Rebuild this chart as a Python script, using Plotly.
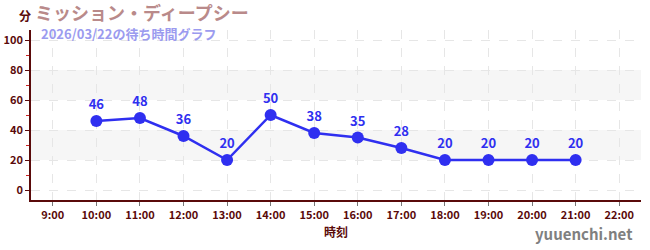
import plotly.graph_objects as go

hours = [10, 11, 12, 13, 14, 15, 16, 17, 18, 19, 20, 21]
waits = [46, 48, 36, 20, 50, 38, 35, 28, 20, 20, 20, 20]
tick_hours = list(range(9, 23))
tick_labels = [f"{h}:00" for h in tick_hours]
y_major = [0, 20, 40, 60, 80, 100]
y_minor = [10, 30, 50, 70, 90]
bands = [(20, 40), (60, 80)]

title = "ミッション・ディープシー"
subtitle = "2026/03/22の待ち時間グラフ"

FONT = "Noto Sans CJK JP"
AX = "#5a0a0a"
BLUE = "#2f2ff0"

fig = go.Figure()
fig.add_trace(go.Scatter(
    x=hours, y=waits, mode="lines+markers+text",
    line=dict(color=BLUE, width=2.5),
    marker=dict(color=BLUE, size=12),
    text=[str(v) for v in waits], textposition="top center",
    textfont=dict(family=FONT, size=13, color=BLUE, weight="bold"),
    cliponaxis=False, hoverinfo="skip",
))

shapes = []
for lo, hi in bands:
    shapes.append(dict(type="rect", xref="paper", yref="y", x0=0, x1=1, y0=lo, y1=hi,
                       fillcolor="#f6f6f6", line=dict(width=0), layer="below"))
fig.update_layout(shapes=shapes)

fig.update_layout(
    width=650, height=250,
    margin=dict(l=31, r=9, t=30, b=50),
    plot_bgcolor="white", paper_bgcolor="white",
    showlegend=False,
    font=dict(family=FONT, color=AX),
    xaxis=dict(
        range=[8.5, 22.5], tickvals=tick_hours, ticktext=tick_labels,
        automargin=False,
        showline=True, linecolor=AX, linewidth=1.5,
        ticks="outside", ticklen=4, tickcolor="#777",
        tickfont=dict(family=FONT, size=11, color=AX, weight="bold"),
        showgrid=True, gridcolor="#e6e6e6", griddash="dash", gridwidth=1,
        zeroline=False,
        title=dict(text="時刻", font=dict(family=FONT, size=12, color=AX, weight="bold"), standoff=8),
    ),
    yaxis=dict(
        range=[-6.67, 106.67], tickvals=y_major,
        automargin=False,
        showline=True, linecolor=AX, linewidth=1.5,
        ticks="outside", ticklen=4, tickcolor=AX,
        tickfont=dict(family=FONT, size=11, color=AX, weight="bold"),
        showgrid=True, gridcolor="#e6e6e6", griddash="dash", gridwidth=1,
        zeroline=False,
        minor=dict(tickvals=y_minor, ticks="outside", ticklen=3, tickcolor="#cc2222", showgrid=False),
    ),
)

fig.add_annotation(xref="paper", yref="paper", x=-0.01, y=1.0, yshift=15, xanchor="center", yanchor="middle",
                   text="<b>分</b>", showarrow=False, font=dict(family=FONT, size=12, color=AX))
fig.add_annotation(xref="paper", yref="paper", x=0.005, y=1.0, yshift=18, xanchor="left", yanchor="middle",
                   text="<b>" + title + "</b>", showarrow=False, borderpad=0,
                   font=dict(family=FONT, size=18, color="#b98a8a"))
fig.add_annotation(xref="paper", yref="paper", x=0.014, y=1.0, yshift=-3, xanchor="left", yanchor="middle",
                   text="<b>" + subtitle + "</b>", showarrow=False, borderpad=0,
                   font=dict(family=FONT, size=13, color="#9b9bef"))
fig.add_annotation(xref="paper", yref="paper", x=0.99, y=0, yshift=-33, xanchor="right", yanchor="middle",
                   text="<b>yuuenchi.net</b>", showarrow=False, font=dict(family=FONT, size=15, color="#808080"))

fig.write_html("out.html")
